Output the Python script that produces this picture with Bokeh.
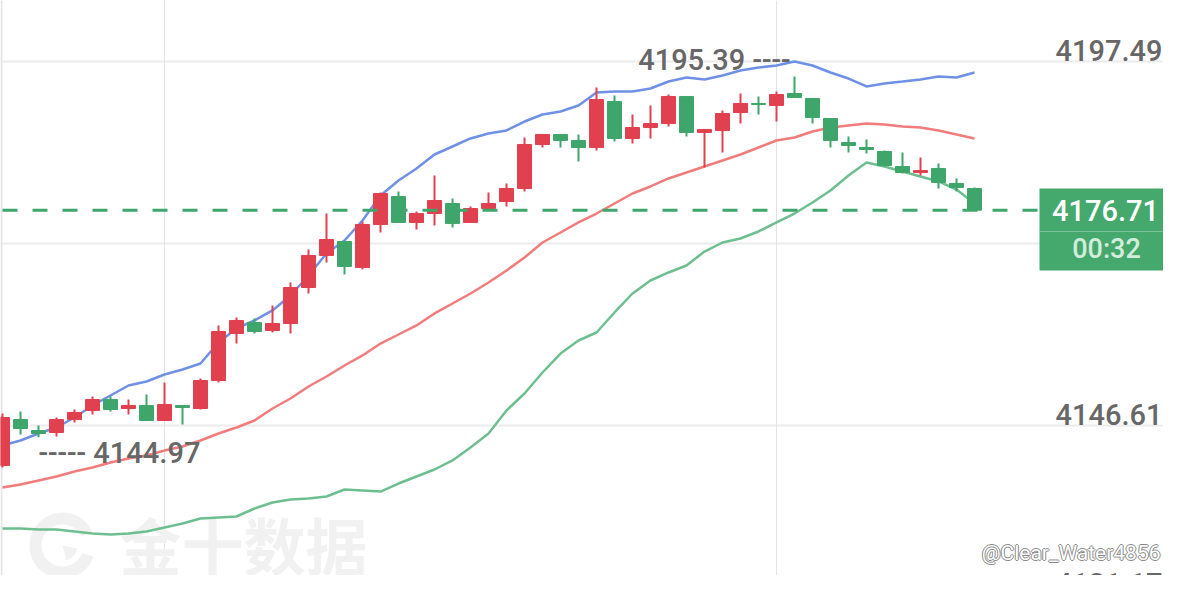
import numpy as np
from bokeh.plotting import figure
from bokeh.models import Range1d, Span
from bokeh.core.properties import value
from bokeh.embed import file_html
from bokeh.resources import INLINE

# ---------------- data ----------------
opens = [4141.02, 4147.45, 4145.91, 4145.63, 4147.45, 4148.71, 4150.24, 4148.99, 4149.41, 4147.31,
         4149.41, 4148.99, 4152.90, 4159.47, 4161.01, 4159.89, 4160.87, 4165.90, 4170.37, 4172.33,
         4168.70, 4174.71, 4178.62, 4174.99, 4176.24, 4177.64, 4174.99, 4176.94, 4177.92, 4179.74,
         4185.89, 4187.29, 4186.45, 4185.47, 4191.90, 4186.73, 4188.26, 4188.82, 4192.60, 4187.57,
         4187.85, 4190.36, 4191.62, 4191.34, 4193.02, 4192.32, 4189.52, 4186.17, 4185.47, 4184.91,
         4182.81, 4181.97, 4182.53, 4180.44, 4179.74]
highs = [4148.29, 4148.57, 4146.61, 4147.73, 4148.85, 4150.66, 4150.66, 4150.24, 4150.94, 4152.62,
         4149.41, 4153.18, 4160.59, 4161.71, 4161.57, 4163.38, 4166.60, 4171.21, 4176.24, 4172.33,
         4175.13, 4179.18, 4179.32, 4176.52, 4181.56, 4178.34, 4177.22, 4179.18, 4180.44, 4186.87,
         4187.29, 4187.29, 4187.29, 4193.86, 4192.74, 4190.08, 4191.34, 4192.88, 4192.60, 4187.99,
         4190.64, 4193.02, 4192.60, 4193.30, 4195.39, 4192.32, 4189.52, 4187.01, 4186.59, 4185.05,
         4184.77, 4184.07, 4183.23, 4181.14, 4179.88]
lows = [4140.74, 4145.35, 4144.97, 4145.07, 4147.03, 4148.15, 4148.57, 4148.15, 4147.31, 4147.31,
        4146.75, 4148.85, 4152.62, 4158.07, 4159.47, 4159.61, 4159.47, 4165.06, 4169.39, 4167.72,
        4168.42, 4173.59, 4174.99, 4174.01, 4174.57, 4174.29, 4174.99, 4176.80, 4177.22, 4179.32,
        4185.47, 4185.47, 4183.51, 4185.05, 4186.31, 4186.03, 4186.73, 4188.40, 4187.01, 4182.67,
        4184.77, 4188.82, 4190.08, 4189.10, 4192.46, 4188.82, 4185.47, 4184.77, 4184.63, 4182.81,
        4181.83, 4181.56, 4179.74, 4179.32, 4176.60]
closes = [4147.73, 4146.19, 4145.49, 4147.45, 4148.43, 4150.24, 4148.85, 4149.41, 4147.31, 4149.55,
          4149.13, 4152.90, 4159.75, 4161.29, 4159.75, 4160.87, 4165.90, 4170.37, 4172.61, 4168.84,
          4174.71, 4179.04, 4174.99, 4176.24, 4178.06, 4174.85, 4176.94, 4177.64, 4179.74, 4185.89,
          4187.29, 4186.45, 4185.47, 4192.18, 4186.73, 4188.26, 4188.82, 4192.60, 4187.57, 4187.99,
          4190.22, 4191.62, 4191.48, 4192.88, 4192.46, 4189.66, 4186.45, 4185.75, 4185.19, 4182.95,
          4181.97, 4182.25, 4180.58, 4179.88, 4176.71]
upper = [4143.81, 4144.51, 4145.49, 4146.33, 4147.73, 4149.41, 4150.80, 4152.20, 4152.76, 4153.74,
         4154.44, 4155.28, 4158.21, 4160.17, 4161.29, 4162.69, 4164.78, 4167.58, 4170.65, 4172.47,
         4175.27, 4178.76, 4180.86, 4182.53, 4184.49, 4185.61, 4186.73, 4187.43, 4187.85, 4189.10,
         4190.08, 4190.50, 4191.34, 4193.16, 4193.30, 4193.30, 4193.72, 4194.69, 4195.25, 4194.97,
         4195.53, 4196.23, 4196.65, 4196.93, 4197.49, 4196.93, 4195.95, 4195.11, 4194.00, 4194.42,
         4194.69, 4194.97, 4195.39, 4195.25, 4195.95]
middle = [4137.94, 4138.36, 4138.92, 4139.48, 4140.18, 4140.74, 4141.44, 4142.00, 4142.42, 4143.12,
          4143.68, 4144.51, 4145.49, 4146.33, 4147.31, 4148.99, 4150.38, 4152.06, 4153.46, 4155.00,
          4156.40, 4158.07, 4159.33, 4160.59, 4162.27, 4163.66, 4165.06, 4166.60, 4168.28, 4170.09,
          4172.19, 4173.59, 4174.99, 4176.24, 4177.64, 4179.04, 4180.02, 4181.14, 4181.97, 4182.81,
          4183.65, 4184.49, 4185.47, 4186.45, 4186.87, 4187.71, 4188.26, 4188.54, 4188.82, 4188.68,
          4188.40, 4188.26, 4187.85, 4187.29, 4186.73]
lower = [4132.21, 4132.21, 4132.07, 4132.07, 4131.79, 4131.51, 4131.37, 4131.51, 4131.79, 4132.35,
         4132.91, 4133.61, 4133.75, 4133.89, 4135.01, 4135.85, 4136.27, 4136.41, 4136.69, 4137.66,
         4137.52, 4137.38, 4138.50, 4139.48, 4140.46, 4141.72, 4143.54, 4145.49, 4148.71, 4151.08,
         4154.02, 4156.67, 4158.49, 4159.61, 4162.41, 4165.06, 4166.88, 4168.00, 4168.98, 4170.93,
         4172.19, 4172.75, 4173.73, 4174.99, 4176.24, 4177.78, 4179.46, 4181.56, 4183.37, 4182.81,
         4182.11, 4181.42, 4180.72, 4179.60, 4177.64]

y_ticks = [4197.49, 4172.05, 4146.61, 4121.17]
y_tick_labels = ["4197.49", "4172.05", "4146.61", "4121.17"]
x_grid_idx = [9, 43]
countdown = "00:32"
watermark = "金十数据"
credit = "@Clear_Water4856"

# ---------------- layout ----------------
W, H = 1163, 575
PX = 18.0                                  # pixels per candle
ppu = 364.0 / (y_ticks[0] - y_ticks[2])    # pixels per price unit
x_start = -2.0 / PX                        # first candle 2px from the left edge
x_end = x_start + W / PX
y_top = y_ticks[0] + 61.0 / ppu            # top gridline 61px below the top edge
y_bot = y_top - H / ppu


def sx(px):  # picture x (px) -> data x
    return x_start + px / PX


def sy(px):  # picture y (px) -> data y
    return y_top - px / ppu


UP = "#e1404f"
DOWN = "#3fa66b"
TXT = "#676767"
FONT = value("'Roboto Medium', Roboto, sans-serif")

idx = np.arange(len(closes))
o = np.array(opens); c = np.array(closes); hi = np.array(highs); lo = np.array(lows)
colors = [UP if cc >= oo else DOWN for oo, cc in zip(o, c)]

p = figure(width=W, height=H, x_range=Range1d(x_start, x_end), y_range=Range1d(y_bot, y_top),
           output_backend="svg", toolbar_location=None, min_border=0,
           x_axis_location=None, y_axis_location=None)
p.grid.visible = False
p.outline_line_color = None
p.background_fill_color = "white"
p.border_fill_color = "white"

for t in y_ticks:
    p.add_layout(Span(location=t, dimension="width", line_color="#ececec", line_width=2, level="underlay"))
for t in x_grid_idx:
    p.add_layout(Span(location=t, dimension="height", line_color="#e3e3e3", line_width=1, level="underlay"))
p.add_layout(Span(location=sx(1), dimension="height", line_color="#e6e6e6", line_width=2, level="underlay"))

# watermark
wx, wy = sx(62), sy(545)
p.arc(x=[wx], y=[wy], radius=27, radius_units="screen", start_angle=0.45, end_angle=2 * np.pi - 0.35,
      line_width=12, line_color="#f1f1f1")
p.wedge(x=[wx], y=[wy], radius=15, radius_units="screen", start_angle=-1.3, end_angle=-0.2,
        fill_color="#f1f1f1", line_color=None)
p.text(x=[sx(119)], y=[sy(543)], text=[watermark], text_align="left", text_baseline="middle",
       text_font=value("Noto Sans CJK SC"), text_font_style="bold", text_font_size="62px",
       text_color="#f1f1f1")

# Bollinger bands
p.line(idx, lower, line_color="#6dbf8f", line_width=2.5)
p.line(idx, middle, line_color="#f17c7c", line_width=2.5)
p.line(idx, upper, line_color="#6f90e4", line_width=2.5)

# candles
p.segment(x0=idx, y0=lo, x1=idx, y1=hi, line_color=colors, line_width=2)
p.vbar(x=idx, width=14 / PX, top=np.maximum(o, c), bottom=np.minimum(o, c),
       fill_color=colors, line_color=colors, line_width=1)

# last price line + box
last = closes[-1]
box_l, box_r = sx(1039), sx(1185)
box_t = last + (209.7 - 188) / ppu
box_b = last - (270 - 209.7) / ppu
p.line(x=[x_start, box_l], y=[last, last], line_color=DOWN, line_width=3, line_dash="15 15",
       line_dash_offset=28)

# high / low markers
ih = int(np.argmax(hi))
il = int(np.argmin(lo[1:])) + 1  # first candle is only partly in view
p.text(x=[ih], y=[hi[ih]], text=[f"{hi[ih]:.2f} ----"], text_align="right", text_baseline="middle",
       x_offset=-4, y_offset=-17, text_font=FONT, text_font_size="29px", text_color=TXT)
p.text(x=[il], y=[lo[il]], text=[f"----- {lo[il]:.2f}"], text_align="left", text_baseline="middle",
       x_offset=0, y_offset=16, text_font=FONT, text_font_size="29px", text_color=TXT)

# right-hand price labels (the lowest one sits at the bottom edge)
label_dy = [-11, -11, -11, -24]
p.text(x=[sx(1162)] * len(y_ticks), y=y_ticks, text=y_tick_labels, text_align="right",
       text_baseline="alphabetic", y_offset=label_dy, text_font=FONT,
       text_font_size="29px", text_color=TXT)

p.quad(left=[box_l], right=[box_r], top=[box_t], bottom=[box_b], fill_color="#45a86c", line_color=None)
sep = last - (231 - 209.7) / ppu
p.segment(x0=[box_l], y0=[sep], x1=[box_r], y1=[sep], line_color="#7cc59a", line_width=1)
p.text(x=[sx(1105)], y=[last], text=[f"{last:.2f}"], text_align="center", text_baseline="middle",
       text_font=FONT, text_font_size="29px", text_color="white")
p.text(x=[sx(1106)], y=[last - (249 - 209.7) / ppu], text=[countdown], text_align="center",
       text_baseline="middle", text_font=FONT, text_font_size="27px", text_color="#d3ecdc")

# credit (outlined text)
cx, cy = sx(1160), sy(552)
for dx, dy in [(-1, 0), (1, 0), (0, -1), (0, 1)]:
    p.text(x=[cx], y=[cy], text=[credit], text_align="right", text_baseline="middle",
           x_offset=dx, y_offset=dy, text_font=value("Roboto"), text_font_size="21px",
           text_color="#8a8a8a")
p.text(x=[cx], y=[cy], text=[credit], text_align="right", text_baseline="middle",
       text_font=value("Roboto"), text_font_size="21px", text_color="white")

open("out.html", "w").write(file_html(p, INLINE))
